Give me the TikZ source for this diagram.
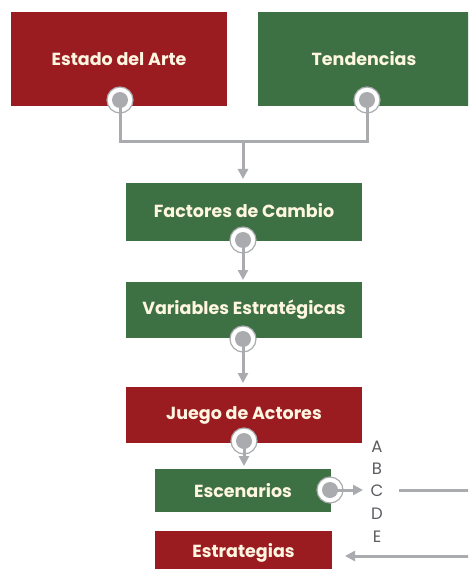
\documentclass[tikz,border=0pt]{standalone}
\usepackage{fontspec}
\setmainfont{Poppins}
\usetikzlibrary{arrows.meta}
\definecolor{boxred}{HTML}{9B1C20}
\definecolor{boxgreen}{HTML}{3D7042}
\definecolor{linegray}{HTML}{A9ABAE}
\definecolor{txtcream}{HTML}{FFF6E2}
\definecolor{lettergray}{HTML}{5A5C60}
\begin{document}
\begin{tikzpicture}[x=1pt,y=-1pt,
  box/.style={rectangle, inner sep=0pt, text=txtcream,
    font=\fontsize{17.5}{20}\selectfont\bfseries},
  redbox/.style={box, fill=boxred},
  greenbox/.style={box, fill=boxgreen},
  port/.style={circle, draw=linegray, line width=1.2pt, fill=white,
    minimum size=26pt, inner sep=0pt,
    path picture={\fill[linegray] (path picture bounding box.center) circle (8pt);}},
  conn/.style={draw=linegray, line width=3pt},
  arr/.style={conn, -{Triangle[width=10pt,length=10pt]}},
  letter/.style={text=lettergray, inner sep=0pt, font=\fontsize{16.5}{18}\selectfont}
]
\useasboundingbox (0,0) rectangle (468,569);
\clip (0,0) rectangle (468,569);

% boxes
\node[redbox, minimum width=216pt, minimum height=94pt] (arte) at (119,59) {Estado del Arte};
\node[greenbox, minimum width=212pt, minimum height=94pt] (tend) at (364,59) {Tendencias};
\node[greenbox, minimum width=236pt, minimum height=58pt] (fact) at (244,212) {\raisebox{3pt}{Factores de Cambio}};
\node[greenbox, minimum width=236pt, minimum height=56pt] (vari) at (244,310) {\raisebox{2pt}{Variables Estratégicas}};
\node[redbox, minimum width=236pt, minimum height=56pt] (jueg) at (244,415) {\raisebox{4pt}{Juego de Actores}};
\node[greenbox, minimum width=176pt, minimum height=43pt] (esce) at (243,490.5) {Escenarios};
\node[redbox, minimum width=177pt, minimum height=44pt] (estr) at (243.5,553) {Estrategias};

% ports
\node[port] (p1) at (120,100) {};
\node[port] (p2) at (367,100) {};
\node[port] (p3) at (243,240) {};
\node[port] (p4) at (243,339) {};
\node[port] (p5) at (244,441) {};
\node[port] (p6) at (330,490) {};

% coordinates
\coordinate (join) at (243,142);
\coordinate (tipC) at (363,490);
\coordinate (lineC) at (399,490);
\coordinate (rightC) at (470,490);
\coordinate (rightE) at (470,556);
\coordinate (tipE) at (345,556);

% connectors
\draw[conn] (p1.center) |- (join) -| (p2.center);
\draw[arr] (join) -- (243,179);
\draw[arr] (p3.center) -- (243,280);
\draw[arr] (p4.center) -- (243,383);
\draw[arr] (p5.center) -- (244,466);
\draw[arr] (p6.center) -- (tipC);
\draw[conn] (lineC) -- (rightC);
\draw[arr] (rightE) -- (tipE);

% letters
\node[letter] (la) at (377,447) {A};
\node[letter] (lb) at (377,469) {B};
\node[letter] (lc) at (377,491) {C};
\node[letter] (ld) at (377,514) {D};
\node[letter] (le) at (377,537) {E};
\end{tikzpicture}
\end{document}
